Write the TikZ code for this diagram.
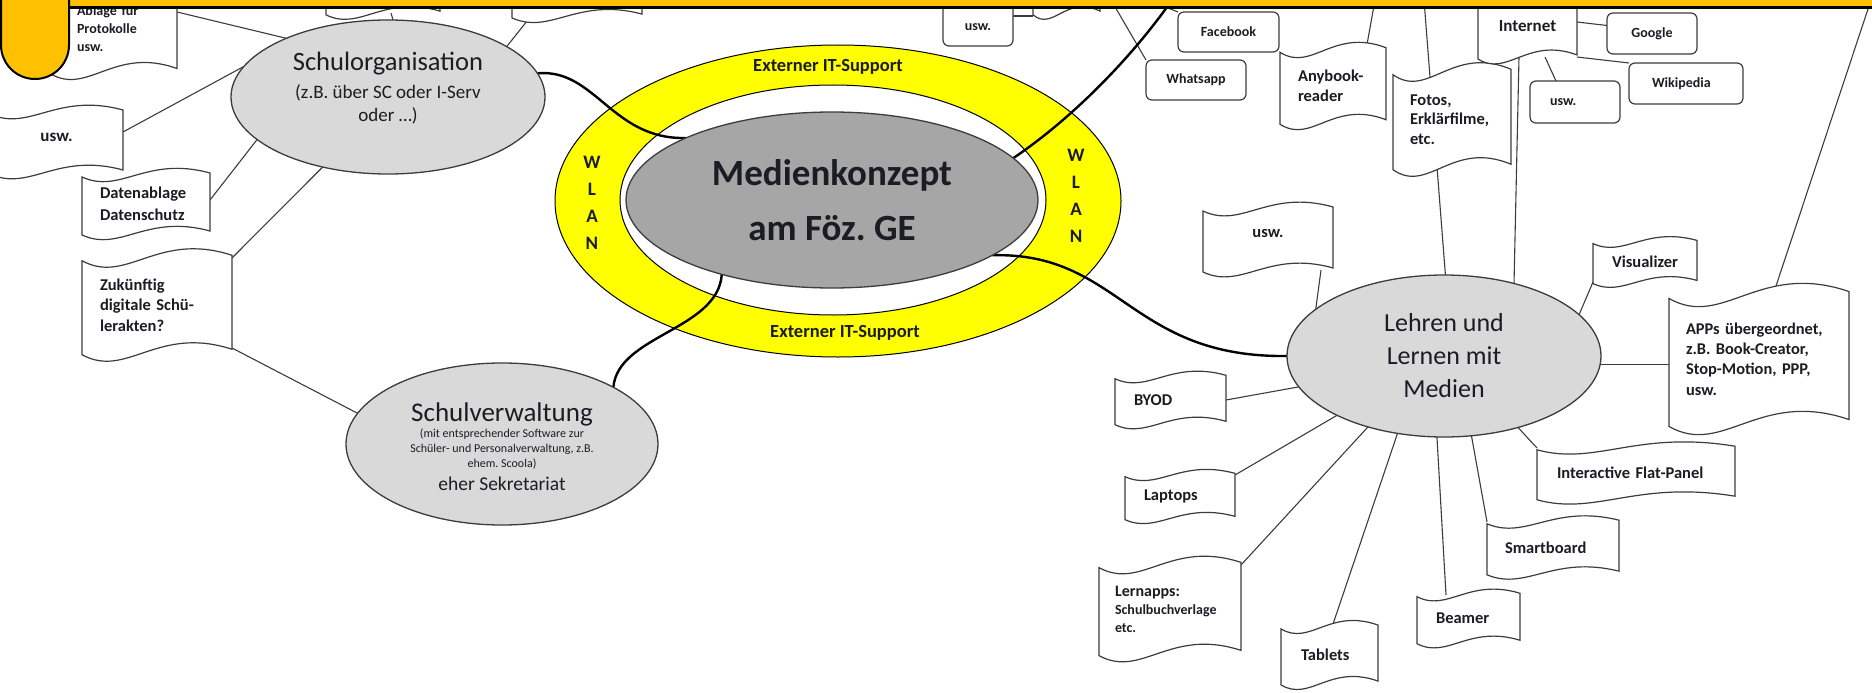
\documentclass[tikz,border=0pt]{standalone}
\usepackage{fontspec}
\setmainfont{Carlito}
\usetikzlibrary{shapes.geometric}
\hyphenpenalty=10000
\exhyphenpenalty=10000
\frenchspacing
\definecolor{bannerorange}{HTML}{FFC000}
\definecolor{ringyellow}{HTML}{FFFF00}
\definecolor{bubblegrey}{HTML}{D9D9D9}
\definecolor{coregrey}{HTML}{A6A6A6}
\definecolor{edgegrey}{HTML}{3C3C3C}
\definecolor{inkdark}{HTML}{1C1C24}
\pgfdeclarelayer{ring}
\pgfdeclarelayer{links}
\pgfdeclarelayer{front}
\pgfsetlayers{ring,links,main,front}
\newcommand{\setfs}[2]{\fontsize{#1}{#2}\selectfont}

\tikzset{
  bubble/.style={ellipse, draw=edgegrey, line width=1.3pt, fill=bubblegrey,
    inner sep=0pt, outer sep=0pt, text=inkdark, align=center},
  bubbletext/.style={inner sep=0pt, outer sep=0pt, text=inkdark, align=center},
  ringtext/.style={inner sep=0pt, outer sep=0pt, text=inkdark,
    font=\bfseries\setfs{18.5}{22}, align=center},
  wavepath/.style={draw=edgegrey, line width=1.2pt, fill=white},
  wavelabel/.style={inner sep=0pt, outer sep=0pt, text=inkdark,
    font=\bfseries\setfs{16.5}{20.5}, align=left},
  roundbox/.style={draw=edgegrey, line width=1.2pt, fill=white, rounded corners=6pt,
    inner sep=0pt, outer sep=0pt, text=inkdark, font=\bfseries\setfs{14}{17}},
  link/.style={draw=edgegrey, line width=1.1pt},
  mainlink/.style={draw=black, line width=2.4pt},
}

% wave-edged box: [label options]{name}{x0}{y0}{x1}{y1}{text}
\newcommand{\wavebox}[7][]{%
  \pgfmathsetmacro{\wbW}{#5-#3}%
  \pgfmathsetmacro{\wbH}{#6-#4}%
  \pgfmathsetmacro{\wbC}{3*(0.07*\wbH+2.5)}%
  \pgfmathsetmacro{\wbE}{0.3*(0.07*\wbH+2.5)}%
  \pgfmathsetmacro{\wbA}{#3+0.3*\wbW}%
  \pgfmathsetmacro{\wbB}{#3+0.5*\wbW}%
  \path[wavepath] (#3,#4+\wbE) -- (#3,#6+\wbE)
    .. controls (\wbA,#6+\wbC) and (\wbB,#6-\wbC) .. (#5,#6-\wbE) -- (#5,#4-\wbE)
    .. controls (\wbB,#4-\wbC) and (\wbA,#4+\wbC) .. (#3,#4+\wbE) -- cycle;
  \node[wavelabel, minimum width=\wbW pt, minimum height=\wbH pt, #1]
    (#2) at ({(#3+#5)/2},{(#4+#6)/2}) {#7};
}

\begin{document}
\begin{tikzpicture}[x=1pt,y=-1pt]
\useasboundingbox (0,0) rectangle (1872,693);

% ---------- WLAN / IT-support ring ----------
\begin{pgfonlayer}{ring}
  \filldraw[fill=ringyellow, draw=black, line width=1pt] (838,201) ellipse [x radius=283, y radius=156];
  \filldraw[fill=white, draw=black, line width=1pt] (833,200) ellipse [x radius=213, y radius=115];
  \node[ringtext] (supporttop) at (828,67) {Externer IT-Support};
  \node[ringtext] (supportbottom) at (845,333) {Externer IT-Support};
  \node[ringtext, font=\bfseries\setfs{19}{27}] (wlanleft) at (592,203) {W\\L\\A\\N};
  \node[ringtext, font=\bfseries\setfs{19}{27}] (wlanright) at (1076,196) {W\\L\\A\\N};
\end{pgfonlayer}

% ---------- main bubbles ----------
\node[bubble, fill=coregrey, minimum width=412pt, minimum height=176pt,
  font=\bfseries\setfs{37}{55}] (core) at (832,200) {Medienkonzept\\am Föz. GE};

\node[bubble, minimum width=314pt, minimum height=154pt] (orga) at (388,97) {};
\node[bubbletext, font=\setfs{19}{23}] (orgatext) at (388,88)
  {{\setfs{26.5}{28}Schulorganisation}\\[5pt](z.B. über SC oder I-Serv\\oder …)};

\node[bubble, minimum width=312pt, minimum height=162pt] (verw) at (502,444) {};
\node[bubbletext, anchor=base, font=\setfs{27}{30}] (verwtitle) at (502,421) {Schulverwaltung};
\node[bubbletext, font=\setfs{12}{15}] (verwnote) at (502,449)
  {(mit entsprechender Software zur\\Schüler- und Personalverwaltung, z.B.\\ehem. Scoola)};
\node[bubbletext, anchor=base, font=\setfs{19.5}{22}] (verwsek) at (502,490) {eher Sekretariat};

\node[bubble, minimum width=314pt, minimum height=162pt, font=\setfs{26}{33}]
  (lehren) at (1444,356) {Lehren und\\Lernen mit\\Medien};

% ---------- wave boxes ----------
\wavebox[text width=73pt, font=\bfseries\setfs{14}{18}]{ablage}{50}{-13}{177}{71}{Ablage für\\Protokolle\\usw.}
\wavebox{orgatop}{326}{-40}{440}{13}{}
\wavebox{orgaside}{512}{-40}{642}{16}{}
\wavebox[font=\bfseries\setfs{17}{20}]{misc}{-10}{112}{123}{172}{\raisebox{5pt}[\height][\depth]{usw.}}
\wavebox[text width=92pt, font=\bfseries\setfs{16.5}{22}]{daten}{82}{175}{210}{233}{Datenablage\\Datenschutz}
\wavebox[text width=114pt]{akten}{82}{258}{232}{352}{Zukünftig\\digitale Schü-\\lerakten?}
\wavebox{social}{1033}{-40}{1100}{13}{}
\wavebox[text width=70pt, font=\bfseries\setfs{16.5}{20}]{anybook}{1280}{50}{1386}{122}{Anybook-\\reader}
\wavebox[text width=84pt, font=\bfseries\setfs{16.5}{19.5}]{fotos}{1393}{72}{1511}{167}{Fotos,\\Erklärfilme,\\etc.}
\wavebox[font=\bfseries\setfs{17}{20}]{internet}{1478}{-5}{1577}{57}{Internet}
\wavebox{uswmid}{1203}{209}{1333}{270}{\raisebox{6pt}[\height][\depth]{usw.}}
\wavebox{visual}{1593}{242}{1697}{282}{Visualizer}
\wavebox[text width=146pt, font=\bfseries\setfs{16.4}{20.4}]{apps}{1669}{295}{1849}{423}{APPs übergeordnet,\\z.B. Book-Creator,\\Stop-Motion, PPP,\\usw.}
\wavebox[text width=73pt]{byod}{1115}{377}{1226}{423}{BYOD}
\wavebox[text width=158pt]{flat}{1537}{448}{1735}{498}{Interactive Flat-Panel}
\wavebox[text width=72pt]{laptops}{1125}{475}{1235}{518}{Laptops}
\wavebox[text width=96pt]{smart}{1487}{522}{1619}{573}{Smartboard}
\wavebox[text width=110pt, font=\bfseries\setfs{14}{18}]{lernapps}{1099}{565}{1241}{653}{{\setfs{16}{18}Lernapps:}\\Schulbuchverlage\\etc.}
\wavebox[text width=65pt]{beamer}{1417}{595}{1520}{642}{Beamer}
\wavebox[text width=57pt]{tablets}{1281}{627}{1378}{683}{Tablets}

% ---------- rounded boxes ----------
\node[roundbox, minimum width=70pt, minimum height=54pt] (uswtop) at (978,19) {\raisebox{-8pt}[\height][\depth]{usw.}};
\node[roundbox, minimum width=101pt, minimum height=40pt] (facebook) at (1228.5,32) {Facebook};
\node[roundbox, minimum width=100pt, minimum height=40pt] (whatsapp) at (1196,80) {Whatsapp};
\node[roundbox, minimum width=90pt, minimum height=41pt] (google) at (1652,33.5) {Google};
\node[roundbox, minimum width=114pt, minimum height=41pt, text width=68pt, align=left] (wiki) at (1686,83.5) {Wikipedia};
\node[roundbox, minimum width=90pt, minimum height=42pt, text width=50pt, align=left] (uswnet) at (1575,102) {usw.};

% ---------- free ends running up under the banner ----------
\coordinate (whatsroot) at (1111,0);
\coordinate (faceroot) at (1158,4);
\coordinate (coreroot) at (1172,0);
\coordinate (anyroot) at (1375,0);
\coordinate (fotoroot) at (1424,0);
\coordinate (approot) at (1871,0);

% ---------- connectors ----------
\begin{pgfonlayer}{links}
  % school organisation branch
  \draw[link] ([yshift=-25pt]ablage.north east) -- (orga.150);
  \draw[link] ([yshift=10pt]misc.east) -- (orga.168);
  \draw[link] ([yshift=4pt]daten.east) -- (orga.-162);
  \draw[link] (akten.north east) -- (orga.-133);
  \draw[link] ([yshift=4pt]akten.south east) -- (verw.168);
  \draw[link] ([xshift=8pt]orgatop.south) -- ([xshift=5pt]orga.north);
  \draw[link] ([xshift=19pt]orgaside.south west) -- (orga.23);
  % top row
  \draw[link] ([yshift=3pt]uswtop.east) -- ([yshift=3pt]uswtop.east -| social.west);
  \draw[link] (whatsroot) -- (whatsapp.north west);
  \draw[link] (faceroot) -- (facebook.north west);
  \draw[link] (anyroot) -- ([xshift=-20pt]anybook.north east);
  \draw[link] ([yshift=4pt]internet.east) -- ([yshift=8pt]google.west);
  \draw[link] (internet.south east) -- (wiki.north west);
  \draw[link] ([xshift=67pt]internet.south west) -- ([xshift=26pt]uswnet.north west);
  % teaching and learning branch
  \draw[link] (fotoroot) -- (lehren.89);
  \draw[link] ([xshift=41pt]internet.south west) -- (lehren.46);
  \draw[link] ([xshift=-12pt]uswmid.south east) -- (lehren.160);
  \draw[link] (visual.south west) -- (lehren.17);
  \draw[link] (lehren.-3) -- (lehren.-3 -| apps.west);
  \draw[link] (approot) -- ([xshift=104pt]apps.north west);
  \draw[link] (flat.north west) -- (lehren.-44);
  \draw[link] (smart.north west) -- (lehren.-71);
  \draw[link] ([xshift=29pt]beamer.north west) -- (lehren.-95);
  \draw[link] ([xshift=51pt]tablets.north west) -- (lehren.-121);
  \draw[link] (lernapps.north east) -- (lehren.-137);
  \draw[link] (laptops.north east) -- (lehren.-151);
  \draw[link] (byod.east) -- (lehren.-168);
  % main branches from the core
  \draw[mainlink] (orga.9) .. controls (595,68) and (612,140) .. (core.157);
  \draw[mainlink] (verw.27) .. controls (618,335) and (718,330) .. (core.-146);
  \draw[mainlink] (core.13) .. controls (1070,120) and (1130,60) .. (coreroot);
  \draw[mainlink] (core.-19) .. controls (1120,252) and (1130,358) .. (lehren.west);
\end{pgfonlayer}

% ---------- header banner ----------
\begin{pgfonlayer}{front}
  \fill[bannerorange] (0,0) rectangle (1872,7.5);
  \draw[line width=2.5pt] (0,7.5) -- (1872,7.5);
  \filldraw[fill=bannerorange, draw=black, line width=2pt, rounded corners=34pt]
    (1,-5) -- (1,79) -- (69,79) -- (69,-5);
\end{pgfonlayer}
\end{tikzpicture}
\end{document}
